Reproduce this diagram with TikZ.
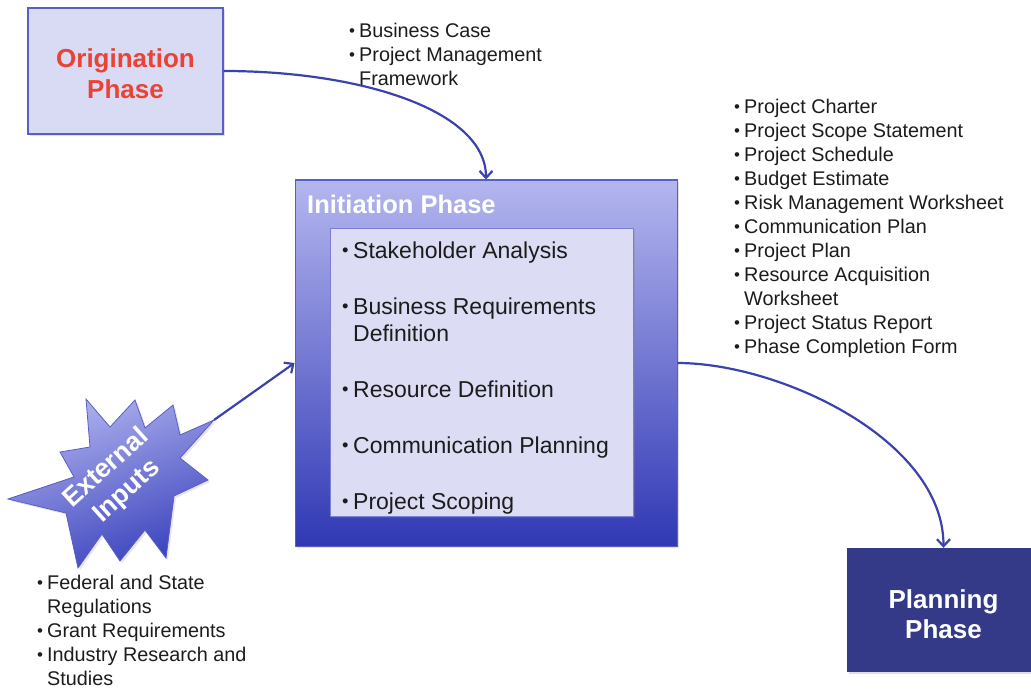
\documentclass[tikz,border=0pt]{standalone}
\usepackage{fontspec}
\setmainfont{Liberation Sans}
\usetikzlibrary{arrows.meta,shadows,calc}
\definecolor{boxfill}{HTML}{D9DAF3}
\definecolor{innerfill}{HTML}{DCDDF4}
\definecolor{boxborder}{HTML}{5A5FC6}
\definecolor{arrowblue}{HTML}{3B42AE}
\definecolor{navy}{HTML}{343A88}
\definecolor{titlered}{HTML}{EA4234}
\definecolor{inittop}{HTML}{B4B6EF}
\definecolor{initbottom}{HTML}{3038B4}
\definecolor{starlight}{HTML}{AEB1EE}
\definecolor{stardark}{HTML}{3A42BC}
\definecolor{textgray}{HTML}{1C1C1C}
\newcommand{\bul}{\makebox[10pt][l]{\raisebox{0.06em}{\scalebox{0.85}{•}}}}
\newcommand{\ind}{\hspace*{10pt}}
\newcommand{\ibul}{\makebox[11pt][l]{\raisebox{0.06em}{\scalebox{0.8}{•}}}}
\begin{document}
\begin{tikzpicture}[x=1pt,y=-1pt,
  phasebox/.style={inner sep=0pt, drop shadow={opacity=0.25,shadow xshift=2pt,shadow yshift=-2pt}},
  flow/.style={draw=arrowblue, line width=2.2pt, -{Straight Barb[length=7pt,width=13pt]}},
  bullist/.style={anchor=north west, inner sep=0pt, align=left, text=textgray, font=\fontsize{19.8}{24}\selectfont},
  whitetitle/.style={text=white, font=\bfseries\fontsize{26}{30}\selectfont, align=center}
]
\useasboundingbox (0,0) rectangle (1031,690);

% Origination box
\node[phasebox, draw=boxborder, line width=1.2pt, fill=boxfill, minimum width=195pt, minimum height=126pt] (orig) at (125.5,71) {};
\node[text=titlered, font=\bfseries\fontsize{26}{31}\selectfont, align=center, inner sep=0pt] (origtext) at (125.5,74) {Origination\\Phase};

% Initiation outer box
\node[phasebox, draw=boxborder, line width=1pt, top color=inittop, bottom color=initbottom,
      minimum width=382pt, minimum height=366pt] (init) at (486,363) {};
\node[anchor=west, inner sep=0pt, text=white, font=\bfseries\fontsize{25.5}{30}\selectfont] (inittitle) at (307,204) {Initiation Phase};

% Inner box
\node[phasebox, draw=boxborder!80, line width=0.8pt, fill=innerfill, minimum width=303pt, minimum height=288pt] (inner) at (481.5,372) {};
\node[anchor=north west, inner sep=0pt, align=left, text=textgray, font=\fontsize{23}{27}\selectfont] (innerlist) at (342,239.1)
  {\strut\ibul Stakeholder Analysis\\[29pt]
   \ibul Business Requirements\\
   \hspace*{11pt}Definition\\[29pt]
   \ibul Resource Definition\\[29pt]
   \ibul Communication Planning\\[29pt]
   \ibul Project Scoping};

% Planning box
\node[phasebox, fill=navy, minimum width=193pt, minimum height=124pt] (plan) at (943.5,610) {};
\node[whitetitle, inner sep=0pt] (plantext) at (943.5,614) {Planning\\Phase};

% Starburst
\draw[draw=boxborder, line width=0.8pt, top color=starlight, bottom color=stardark, shading angle=20,
      drop shadow={opacity=0.2,shadow xshift=2pt,shadow yshift=-2pt}]
  (8,499) -- (74,477) -- (60,452) -- (90,447) -- (86,399) -- (110,427) -- (135,400) -- (145,428)
  -- (173,405) -- (180,435) -- (214,420) -- (180,458) -- (208,480) -- (174,496) -- (166,558)
  -- (145,530) -- (120,561) -- (102,534) -- (78,568) -- (66,513) -- cycle;
\node[rotate=42, text=white, font=\bfseries\fontsize{26.5}{31}\selectfont, align=center, inner sep=0pt] (ext) at (117,480) {External\\Inputs};
\coordinate (exttip) at (214,420);

% Lists
\node[bullist] (toplist) at (349,20.2)
  {\strut\bul Business Case\\
   \bul Project Management\\
   \ind Framework};
\node[bullist] (rightlist) at (734,96.2)
  {\strut\bul Project Charter\\
   \bul Project Scope Statement\\
   \bul Project Schedule\\
   \bul Budget Estimate\\
   \bul Risk Management Worksheet\\
   \bul Communication Plan\\
   \bul Project Plan\\
   \bul Resource Acquisition\\
   \ind Worksheet\\
   \bul Project Status Report\\
   \bul Phase Completion Form};
\node[bullist] (leftlist) at (37,572.2)
  {\strut\bul Federal and State\\
   \ind Regulations\\
   \bul Grant Requirements\\
   \bul Industry Research and\\
   \ind Studies};

% Connectors
\draw[flow] (orig.east) .. controls (360,71) and (486,110) .. (init.north);
\draw[flow] (exttip) -- (init.west);
\draw[flow] (init.east) .. controls (780,363) and (943.5,440) .. (plan.north);
\end{tikzpicture}
\end{document}
